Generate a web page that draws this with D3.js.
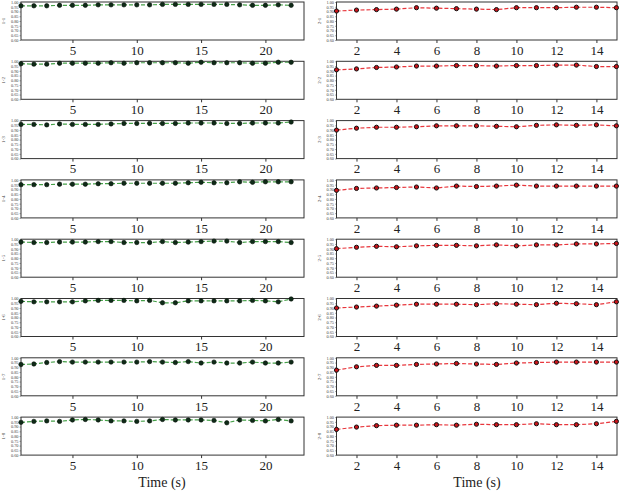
<!DOCTYPE html>
<html><head><meta charset="utf-8">
<script src="https://cdn.jsdelivr.net/npm/d3@7"></script>
<style>body{margin:0;background:#fff}svg{display:block}</style>
</head><body><svg id="c" width="619" height="491"></svg>
<script>
const leftLabels = ["1-1","1-2","1-3","1-4","1-5","1-6","1-7","1-8"];
const rightLabels = ["2-1","2-2","2-3","2-4","2-5","2-6","2-7","2-8"];
const leftX = d3.range(1, 23);
const rightX = d3.range(1, 16);
const leftTicks = [5, 10, 15, 20];
const rightTicks = [2, 4, 6, 8, 10, 12, 14];
const yTicks = [0.60, 0.65, 0.70, 0.75, 0.80, 0.85, 0.90, 0.95, 1.00];
const xTitle = "Time (s)";

const s1_1 = [0.96,0.96,0.96,0.965,0.965,0.965,0.97,0.97,0.97,0.97,0.97,0.975,0.975,0.975,0.975,0.975,0.975,0.97,0.965,0.965,0.97,0.965];
const s1_2 = [0.975,0.97,0.97,0.98,0.98,0.98,0.98,0.985,0.98,0.985,0.985,0.985,0.985,0.98,0.99,0.985,0.985,0.985,0.98,0.98,0.99,0.99];
const s1_3 = [0.96,0.96,0.955,0.965,0.96,0.96,0.96,0.965,0.97,0.97,0.97,0.97,0.97,0.975,0.975,0.975,0.97,0.97,0.975,0.975,0.975,0.985];
const s1_4 = [0.95,0.95,0.95,0.955,0.955,0.955,0.96,0.96,0.965,0.965,0.965,0.965,0.965,0.97,0.975,0.97,0.97,0.98,0.975,0.98,0.98,0.98];
const s1_5 = [0.97,0.965,0.965,0.97,0.97,0.97,0.975,0.975,0.965,0.965,0.965,0.975,0.965,0.97,0.975,0.98,0.98,0.965,0.975,0.975,0.975,0.965];
const s1_6 = [0.97,0.965,0.965,0.965,0.965,0.975,0.98,0.98,0.98,0.975,0.98,0.955,0.955,0.975,0.975,0.975,0.975,0.975,0.98,0.975,0.965,0.995];
const s1_7 = [0.93,0.935,0.95,0.96,0.955,0.955,0.955,0.955,0.955,0.955,0.96,0.955,0.95,0.96,0.945,0.955,0.945,0.945,0.955,0.945,0.945,0.955];
const s1_8 = [0.945,0.955,0.96,0.955,0.97,0.975,0.97,0.96,0.96,0.955,0.96,0.975,0.97,0.97,0.97,0.965,0.94,0.97,0.965,0.96,0.975,0.96];

const s2_1 = [0.905,0.915,0.92,0.925,0.94,0.935,0.93,0.925,0.92,0.94,0.94,0.94,0.945,0.945,0.94];
const s2_2 = [0.91,0.92,0.935,0.94,0.95,0.95,0.955,0.955,0.95,0.955,0.955,0.96,0.96,0.945,0.945];
const s2_3 = [0.90,0.92,0.93,0.93,0.935,0.945,0.945,0.945,0.94,0.935,0.95,0.955,0.95,0.955,0.945];
const s2_4 = [0.89,0.91,0.915,0.92,0.925,0.915,0.935,0.93,0.935,0.945,0.935,0.935,0.935,0.935,0.935];
const s2_5 = [0.90,0.915,0.925,0.92,0.93,0.935,0.935,0.93,0.94,0.93,0.94,0.94,0.95,0.95,0.955];
const s2_6 = [0.90,0.91,0.92,0.93,0.94,0.94,0.94,0.935,0.945,0.94,0.935,0.95,0.945,0.935,0.965];
const s2_7 = [0.87,0.905,0.92,0.92,0.93,0.935,0.94,0.935,0.93,0.945,0.95,0.955,0.955,0.955,0.955];
const s2_8 = [0.87,0.895,0.91,0.915,0.915,0.92,0.915,0.925,0.92,0.92,0.93,0.92,0.92,0.93,0.955];

const leftSeries = [s1_1,s1_2,s1_3,s1_4,s1_5,s1_6,s1_7,s1_8];
const rightSeries = [s2_1,s2_2,s2_3,s2_4,s2_5,s2_6,s2_7,s2_8];

const svg = d3.select("#c");
const rowTop = i => 2 + i * 59.3;
const plotH = 38;
const serif = "'Liberation Serif','DejaVu Serif',serif";

function panel(i, xs, ys, label, x0, x1, domain, ticks, style) {
  const top = rowTop(i);
  const x = d3.scaleLinear().domain(domain).range([x0, x1]);
  const y = d3.scaleLinear().domain([0.6, 1.0]).range([top + plotH, top]);
  const g = svg.append("g");
  const xa = g.append("g").attr("transform", `translate(0,${top + plotH})`)
    .call(d3.axisBottom(x).tickValues(ticks).tickSize(3).tickPadding(2.5).tickFormat(d3.format("d")));
  xa.attr("font-family", serif);
  xa.select(".domain").remove();
  xa.selectAll("line").attr("stroke", "#333");
  xa.selectAll("text").style("font-family", serif).attr("font-size", 13).attr("fill", "#222");
  const ya = g.append("g").attr("transform", `translate(${x0},0)`)
    .call(d3.axisLeft(y).tickValues(yTicks).tickSize(1.5).tickPadding(1).tickFormat(d3.format(".2f")));
  ya.select(".domain").remove();
  ya.selectAll("line").attr("stroke", "#555").attr("stroke-width", 0.5);
  ya.selectAll("text").style("font-family", serif).attr("font-size", 4.3).attr("fill", "#444");
  g.append("rect").attr("x", x0).attr("y", top).attr("width", x1 - x0).attr("height", plotH)
    .attr("fill", "none").attr("stroke", "#333").attr("stroke-width", 1);
  g.append("text").attr("transform", `translate(${x0 - 16},${top + plotH / 2}) rotate(-90)`)
    .attr("text-anchor", "middle").style("font-family", serif).attr("font-size", 5).attr("fill", "#444").text(label);
  const pts = xs.map((d, k) => [d, ys[k]]);
  g.append("path").datum(pts)
    .attr("d", d3.line().x(d => x(d[0])).y(d => y(d[1])))
    .attr("fill", "none").attr("stroke", style.line).attr("stroke-width", 1.2).attr("stroke-dasharray", "4,2");
  g.selectAll("circle").data(pts).enter().append("circle")
    .attr("cx", d => x(d[0])).attr("cy", d => y(d[1])).attr("r", style.r)
    .attr("fill", style.fill).attr("stroke", style.stroke).attr("stroke-width", style.sw);
}

for (let i = 0; i < 8; i++) {
  panel(i, leftX, leftSeries[i], leftLabels[i], 21, 304, [1, 23], leftTicks,
    {line: "#45a048", fill: "#0f2a18", stroke: "#061208", r: 2.2, sw: 0.6});
  panel(i, rightX, rightSeries[i], rightLabels[i], 336.5, 617, [1, 15.03], rightTicks,
    {line: "#e8363c", fill: "#c8141a", stroke: "#111", r: 2.1, sw: 1});
}

svg.append("text").attr("x", 162).attr("y", 487).attr("text-anchor", "middle")
  .style("font-family", serif).attr("font-size", 14).attr("fill", "#222").text(xTitle);
svg.append("text").attr("x", 477).attr("y", 487).attr("text-anchor", "middle")
  .style("font-family", serif).attr("font-size", 14).attr("fill", "#222").text(xTitle);
</script>
</body></html>
